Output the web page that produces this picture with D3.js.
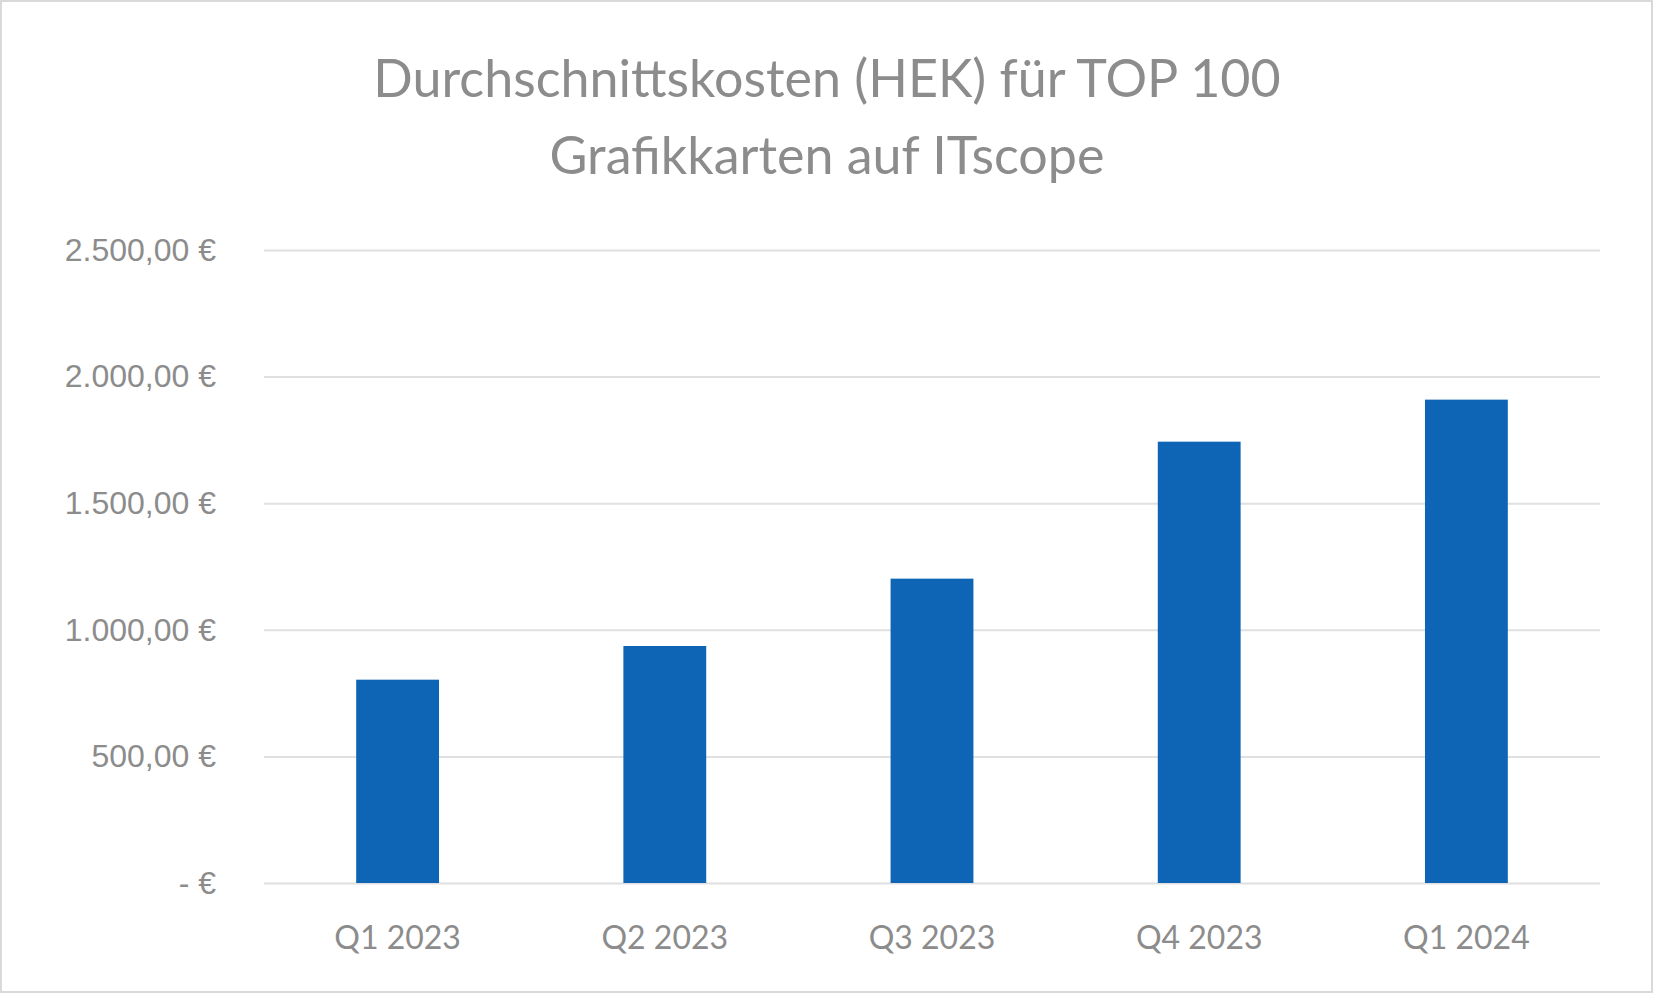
<!DOCTYPE html><html><head><meta charset="utf-8"><script src="https://cdn.jsdelivr.net/npm/d3@7"></script>
<style>body{margin:0;background:#fff}svg{display:block}</style></head><body><script>
const categories=["Q1 2023","Q2 2023","Q3 2023","Q4 2023","Q1 2024"];
const values=[803,936,1202,1743,1909];
const ticks=[0,500,1000,1500,2000,2500];
const W=1653,H=993,m={l:264,r:53,t:250,b:110};
const svg=d3.select("body").append("svg").attr("width",W).attr("height",H).style("font-family","Lato, 'Noto Sans', sans-serif");
svg.append("rect").attr("x",1).attr("y",1).attr("width",W-2).attr("height",H-2).attr("fill","#fff").attr("stroke","#d9d9d9").attr("stroke-width",2);
const x=d3.scaleBand().domain(categories).range([m.l,W-m.r]).paddingInner(0.69).paddingOuter(0.345);
const y=d3.scaleLinear().domain([0,2500]).range([H-m.b,m.t]);
const fmt=v=>v===0?"-   €":d3.format(",.2f")(v).replace(/,/g,"X").replace(/\./g,",").replace(/X/g,".")+" €";
const g=svg.append("g").attr("transform",`translate(${m.l},0)`);
g.call(d3.axisLeft(y).tickValues(ticks).tickSize(-(W-m.l-m.r)).tickFormat(fmt).tickPadding(48))
 .call(s=>s.select(".domain").remove())
 .call(s=>s.selectAll("line").attr("stroke","#e0e0e0").attr("stroke-width",2))
 .call(s=>s.selectAll("text").attr("fill","#8c8c8c").style("font-size","32px"));
svg.selectAll(".bar").data(values).join("rect").attr("fill","#0e64b5")
 .attr("x",(d,i)=>x(categories[i])).attr("width",x.bandwidth()).attr("y",d=>y(d)).attr("height",d=>y(0)-y(d));
svg.selectAll(".cat").data(categories).join("text").attr("x",d=>x(d)+x.bandwidth()/2).attr("y",949)
 .attr("text-anchor","middle").attr("fill","#8c8c8c").style("font-size","32px").text(d=>d);
svg.selectAll(".title").data(["Durchschnittskosten (HEK) für TOP 100","Grafikkarten auf ITscope"]).join("text")
 .attr("x",827).attr("y",(d,i)=>97+i*77).attr("text-anchor","middle").attr("fill","#8c8c8c").style("font-size","52px").text(d=>d);
</script></body></html>
